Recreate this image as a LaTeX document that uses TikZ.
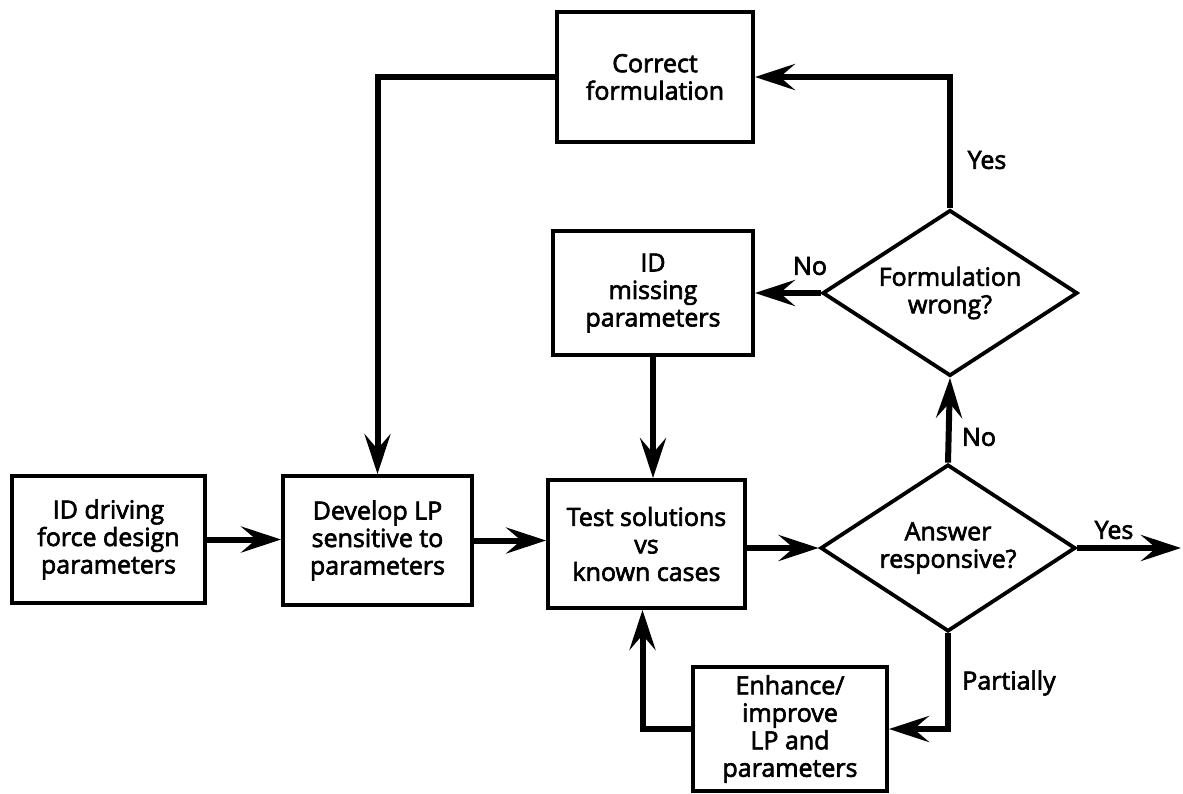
\documentclass[tikz,border=0pt]{standalone}
\usepackage{fontspec}
\setmainfont{Open Sans}[FakeBold=2.6]
\usetikzlibrary{arrows.meta,shapes.geometric}

\tikzset{
  stepbox/.style={draw, line width=3.8pt, align=center, inner sep=0pt,
    font=\fontsize{25}{27.5}\selectfont},
  decision/.style={draw, diamond, line width=3.8pt, align=center, inner sep=0pt,
    aspect=1.53, font=\fontsize{25}{27.5}\selectfont},
  conn/.style={line width=6pt, line cap=butt,
    -{Stealth[length=40pt, width=26pt, inset=15pt]}},
  tag/.style={font=\fontsize{25}{27.5}\selectfont, inner sep=0pt}
}

\begin{document}
\begin{tikzpicture}[x=1pt, y=-1pt]
  \useasboundingbox (0,0) rectangle (1183,793);

  % process boxes
  \node[stepbox, minimum width=193pt, minimum height=127pt] (A) at (108.5,539.5)
    {ID driving\\force design\\parameters};
  \node[stepbox, minimum width=189pt, minimum height=129pt] (B) at (377.5,540.5)
    {Develop LP\\sensitive to\\parameters};
  \node[stepbox, minimum width=197pt, minimum height=128pt] (C) at (646.5,544)
    {Test solutions\\vs\\known cases};
  \node[stepbox, minimum width=200pt, minimum height=124pt] (F) at (653,293)
    {ID\\missing\\parameters};
  \node[stepbox, minimum width=196pt, minimum height=130pt] (G) at (655,77)
    {Correct\\formulation};
  \node[stepbox, minimum width=194pt, minimum height=124pt] (H) at (790,729)
    {Enhance/\\improve\\LP and\\parameters};

  % decisions
  \node[decision, minimum width=255pt, minimum height=167pt] (D) at (948,548)
    {Answer\\responsive?};
  \node[decision, minimum width=255pt, minimum height=166pt] (E) at (950,293)
    {Formulation\\wrong?};

  \coordinate (out) at (1181,548);

  % main flow
  \draw[conn] (A.east) -- (A.east -| B.west);
  \draw[conn] (B.east) -- (B.east -| C.west);
  \draw[conn] (C.east |- D.west) -- (D.west);
  \draw[conn] (D.east) -- (out);

  % decision branches
  \draw[conn] (D.north) -- (E.south);
  \draw[conn] (E.west) -- (E.west -| F.east);
  \draw[conn] (E.north) |- (G.east);
  \draw[conn] (G.west) -| (B.north);
  \draw[conn] (F.south) -- (F.south |- C.north);
  \draw[conn] (D.south) |- (H.east);
  \draw[conn] (H.west) -| ([xshift=-4pt]C.south);

  % branch labels
  \node[tag] (yesTop) at (987,160) {Yes};
  \node[tag] (noMid) at (979,437) {No};
  \node[tag] (noLeft) at (810,266) {No};
  \node[tag] (yesRight) at (1114,530) {Yes};
  \node[tag] (part) at (1009,683) {Partially};
\end{tikzpicture}
\end{document}
